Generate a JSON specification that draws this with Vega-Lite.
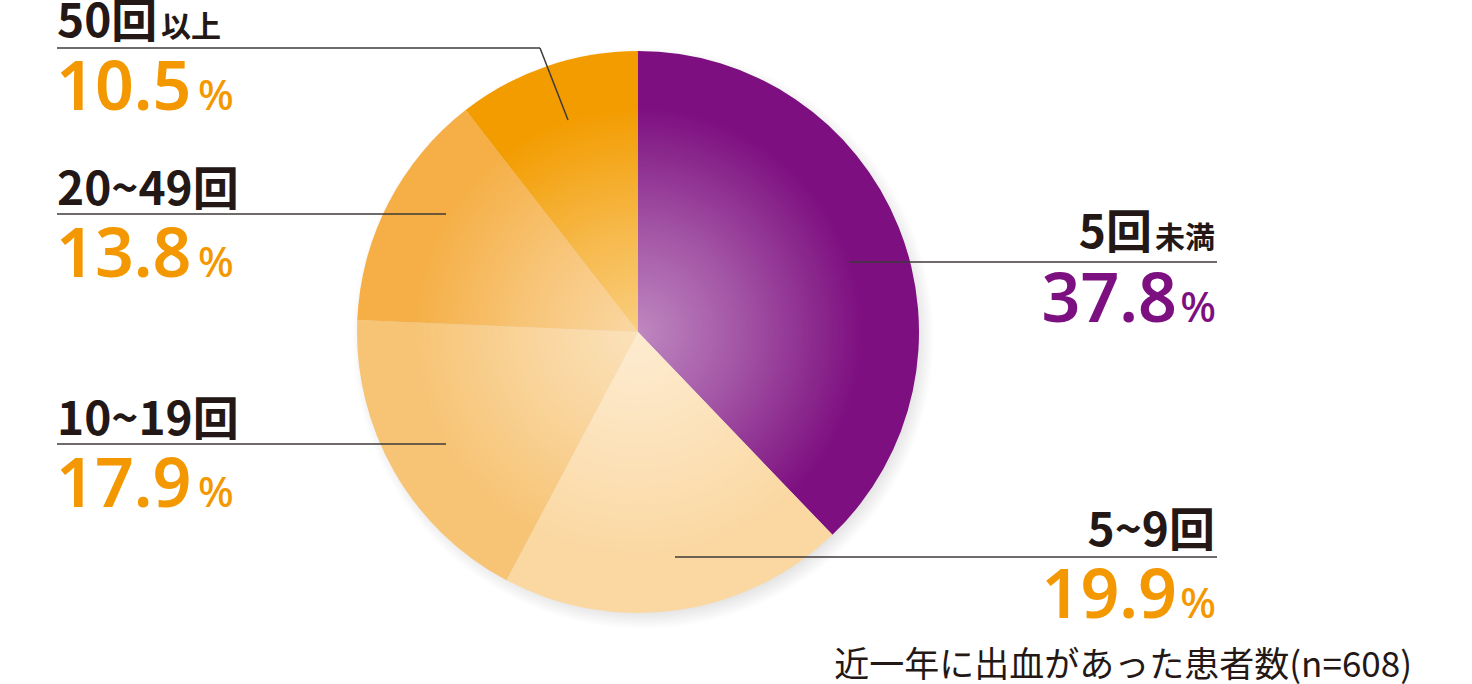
{
  "$schema": "https://vega.github.io/schema/vega-lite/v6.json",
  "width": 1472,
  "height": 684,
  "padding": 0,
  "autosize": {"type": "fit", "contains": "padding"},
  "background": "#ffffff",
  "config": {"view": {"stroke": null}},
  "resolve": {"scale": {"theta": "independent", "color": "independent"}},
  "datasets": {
    "slices": [
      {"cat": "5回未満", "pct": 37.8, "k": 1},
      {"cat": "5~9回", "pct": 19.9, "k": 2},
      {"cat": "10~19回", "pct": 17.9, "k": 3},
      {"cat": "20~49回", "pct": 13.8, "k": 4},
      {"cat": "50回以上", "pct": 10.5, "k": 5}
    ],
    "texts": [
      {"cat": "50回以上", "part": "main", "side": "L", "t": "50回", "x": 57, "y": 37},
      {"cat": "50回以上", "part": "small", "side": "L", "t": "以上", "x": 161, "y": 37},
      {"cat": "20~49回", "part": "main", "side": "L", "t": "20~49回", "x": 57, "y": 205},
      {"cat": "10~19回", "part": "main", "side": "L", "t": "10~19回", "x": 57, "y": 435},
      {"cat": "5回未満", "part": "main", "side": "R", "t": "5回", "x": 1152, "y": 248},
      {"cat": "5回未満", "part": "small", "side": "R", "t": "未満", "x": 1215, "y": 248},
      {"cat": "5~9回", "part": "main", "side": "R", "t": "5~9回", "x": 1215, "y": 546},
      {"cat": "50回以上", "part": "num", "side": "L", "t": "10.5", "x": 56, "y": 110},
      {"cat": "50回以上", "part": "pct", "side": "L", "t": "%", "x": 198, "y": 110},
      {"cat": "20~49回", "part": "num", "side": "L", "t": "13.8", "x": 56, "y": 277},
      {"cat": "20~49回", "part": "pct", "side": "L", "t": "%", "x": 198, "y": 277},
      {"cat": "10~19回", "part": "num", "side": "L", "t": "17.9", "x": 56, "y": 507},
      {"cat": "10~19回", "part": "pct", "side": "L", "t": "%", "x": 198, "y": 507},
      {"cat": "5回未満", "part": "num", "side": "R", "t": "37.8", "x": 1177, "y": 322},
      {"cat": "5回未満", "part": "pct", "side": "R", "t": "%", "x": 1216, "y": 322},
      {"cat": "5~9回", "part": "num", "side": "R", "t": "19.9", "x": 1177, "y": 618},
      {"cat": "5~9回", "part": "pct", "side": "R", "t": "%", "x": 1216, "y": 618},
      {"cat": "note", "part": "note", "side": "R", "t": "近一年に出血があった患者数(n=608)", "x": 1412, "y": 677}
    ],
    "leaders": [
      {"cat": "50回以上", "x": 57, "y": 48, "x2": 540, "y2": 48},
      {"cat": "50回以上", "x": 540, "y": 48, "x2": 568, "y2": 120},
      {"cat": "20~49回", "x": 57, "y": 214, "x2": 446, "y2": 214},
      {"cat": "10~19回", "x": 57, "y": 444, "x2": 446, "y2": 444},
      {"cat": "5回未満", "x": 850, "y": 262, "x2": 1217, "y2": 262},
      {"cat": "5~9回", "x": 675, "y": 557, "x2": 1217, "y2": 557}
    ],
    "disc": [{"v": 1}]
  },
  "layer": [
    {
      "data": {"name": "disc"},
      "mark": {
        "type": "arc",
        "outerRadius": 291,
        "fill": {
          "gradient": "radial",
          "stops": [
            {"offset": 0, "color": "rgba(0,0,0,0.14)"},
            {"offset": 0.93, "color": "rgba(0,0,0,0.12)"},
            {"offset": 1, "color": "rgba(0,0,0,0)"}
          ]
        }
      },
      "encoding": {
        "theta": {"field": "v", "type": "quantitative"},
        "x": {"datum": 643, "type": "quantitative", "scale": {"domain": [0, 1472], "nice": false, "zero": false}, "axis": null},
        "y": {"datum": 338, "type": "quantitative", "scale": {"domain": [0, 684], "nice": false, "zero": false, "reverse": true}, "axis": null}
      }
    },
    {
      "data": {"name": "slices"},
      "mark": {"type": "arc", "outerRadius": 281},
      "encoding": {
        "theta": {"field": "pct", "type": "quantitative", "stack": true},
        "order": {"field": "k", "type": "quantitative", "sort": "ascending"},
        "color": {
          "field": "cat",
          "type": "nominal",
          "legend": null,
          "scale": {
            "domain": ["5回未満", "5~9回", "10~19回", "20~49回", "50回以上"],
            "range": ["#7D0F80", "#FBD8A2", "#F7C475", "#F5AF46", "#F39C00"]
          }
        },
        "x": {"datum": 638, "type": "quantitative"},
        "y": {"datum": 332, "type": "quantitative"}
      }
    },
    {
      "data": {"name": "disc"},
      "mark": {
        "type": "arc",
        "outerRadius": 281,
        "fill": {
          "gradient": "radial",
          "stops": [
            {"offset": 0, "color": "rgba(255,255,255,0.5)"},
            {"offset": 0.35, "color": "rgba(255,255,255,0.3)"},
            {"offset": 0.8, "color": "rgba(255,255,255,0)"},
            {"offset": 1, "color": "rgba(255,255,255,0)"}
          ]
        }
      },
      "encoding": {
        "theta": {"field": "v", "type": "quantitative"},
        "x": {"datum": 638, "type": "quantitative"},
        "y": {"datum": 332, "type": "quantitative"}
      }
    },
    {
      "data": {"name": "leaders"},
      "mark": {"type": "rule", "color": "#3E3A39", "strokeWidth": 1.5},
      "encoding": {
        "x": {"field": "x", "type": "quantitative"},
        "y": {"field": "y", "type": "quantitative"},
        "x2": {"field": "x2"},
        "y2": {"field": "y2"}
      }
    },
    {
      "data": {"name": "texts"},
      "transform": [{"filter": "datum.part === 'main' && datum.side === 'L'"}],
      "mark": {"type": "text", "align": "left", "baseline": "alphabetic", "font": "Noto Sans CJK JP", "fontWeight": "bold", "fontSize": 46, "color": "#231815"},
      "encoding": {
        "x": {"field": "x", "type": "quantitative"},
        "y": {"field": "y", "type": "quantitative"},
        "text": {"field": "t"}
      }
    },
    {
      "data": {"name": "texts"},
      "transform": [{"filter": "datum.part === 'main' && datum.side === 'R'"}],
      "mark": {"type": "text", "align": "right", "baseline": "alphabetic", "font": "Noto Sans CJK JP", "fontWeight": "bold", "fontSize": 46, "color": "#231815"},
      "encoding": {
        "x": {"field": "x", "type": "quantitative"},
        "y": {"field": "y", "type": "quantitative"},
        "text": {"field": "t"}
      }
    },
    {
      "data": {"name": "texts"},
      "transform": [{"filter": "datum.part === 'small' && datum.side === 'L'"}],
      "mark": {"type": "text", "align": "left", "baseline": "alphabetic", "font": "Noto Sans CJK JP", "fontWeight": "bold", "fontSize": 30, "color": "#231815"},
      "encoding": {
        "x": {"field": "x", "type": "quantitative"},
        "y": {"field": "y", "type": "quantitative"},
        "text": {"field": "t"}
      }
    },
    {
      "data": {"name": "texts"},
      "transform": [{"filter": "datum.part === 'small' && datum.side === 'R'"}],
      "mark": {"type": "text", "align": "right", "baseline": "alphabetic", "font": "Noto Sans CJK JP", "fontWeight": "bold", "fontSize": 30, "color": "#231815"},
      "encoding": {
        "x": {"field": "x", "type": "quantitative"},
        "y": {"field": "y", "type": "quantitative"},
        "text": {"field": "t"}
      }
    },
    {
      "data": {"name": "texts"},
      "transform": [{"filter": "datum.part === 'num' && datum.side === 'L'"}],
      "mark": {"type": "text", "align": "left", "baseline": "alphabetic", "font": "Noto Sans", "fontWeight": 600, "fontSize": 68},
      "encoding": {
        "x": {"field": "x", "type": "quantitative"},
        "y": {"field": "y", "type": "quantitative"},
        "text": {"field": "t"},
        "color": {"condition": {"test": "datum.cat === '5回未満'", "value": "#7D1080"}, "value": "#F39800"}
      }
    },
    {
      "data": {"name": "texts"},
      "transform": [{"filter": "datum.part === 'num' && datum.side === 'R'"}],
      "mark": {"type": "text", "align": "right", "baseline": "alphabetic", "font": "Noto Sans", "fontWeight": 600, "fontSize": 68},
      "encoding": {
        "x": {"field": "x", "type": "quantitative"},
        "y": {"field": "y", "type": "quantitative"},
        "text": {"field": "t"},
        "color": {"condition": {"test": "datum.cat === '5回未満'", "value": "#7D1080"}, "value": "#F39800"}
      }
    },
    {
      "data": {"name": "texts"},
      "transform": [{"filter": "datum.part === 'pct' && datum.side === 'L'"}],
      "mark": {"type": "text", "align": "left", "baseline": "alphabetic", "font": "Noto Sans", "fontWeight": 500, "fontSize": 42},
      "encoding": {
        "x": {"field": "x", "type": "quantitative"},
        "y": {"field": "y", "type": "quantitative"},
        "text": {"field": "t"},
        "color": {"condition": {"test": "datum.cat === '5回未満'", "value": "#7D1080"}, "value": "#F39800"}
      }
    },
    {
      "data": {"name": "texts"},
      "transform": [{"filter": "datum.part === 'pct' && datum.side === 'R'"}],
      "mark": {"type": "text", "align": "right", "baseline": "alphabetic", "font": "Noto Sans", "fontWeight": 500, "fontSize": 42},
      "encoding": {
        "x": {"field": "x", "type": "quantitative"},
        "y": {"field": "y", "type": "quantitative"},
        "text": {"field": "t"},
        "color": {"condition": {"test": "datum.cat === '5回未満'", "value": "#7D1080"}, "value": "#F39800"}
      }
    },
    {
      "data": {"name": "texts"},
      "transform": [{"filter": "datum.part === 'note'"}],
      "mark": {"type": "text", "align": "right", "baseline": "alphabetic", "font": "Noto Sans CJK JP", "fontSize": 35, "color": "#231815"},
      "encoding": {
        "x": {"field": "x", "type": "quantitative"},
        "y": {"field": "y", "type": "quantitative"},
        "text": {"field": "t"}
      }
    }
  ]
}
